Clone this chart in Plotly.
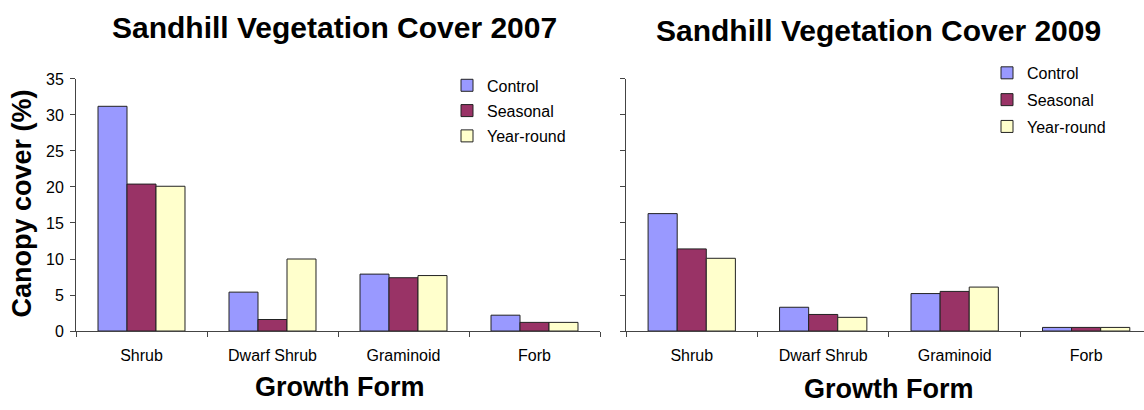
import plotly.graph_objects as go

# Growth-form categories shared by both survey years
categories = ["Shrub", "Dwarf Shrub", "Graminoid", "Forb"]
treatments = ["Control", "Seasonal", "Year-round"]

# Canopy cover (%) by treatment, 2007
control_2007 = [31.2, 5.4, 7.9, 2.2]
seasonal_2007 = [20.4, 1.6, 7.4, 1.2]
yearround_2007 = [20.1, 10.0, 7.7, 1.2]

# Canopy cover (%) by treatment, 2009
control_2009 = [16.3, 3.3, 5.2, 0.5]
seasonal_2009 = [11.4, 2.3, 5.5, 0.5]
yearround_2009 = [10.1, 1.9, 6.1, 0.5]

y_ticks = [0, 5, 10, 15, 20, 25, 30, 35]

colors = ["#9999FF", "#993366", "#FFFFCC"]
FONT = "Arial, Liberation Sans, sans-serif"
W, H = 1144, 410

fig = go.Figure()

for name, vals, col in zip(treatments, [control_2007, seasonal_2007, yearround_2007], colors):
    fig.add_trace(go.Bar(
        x=categories, y=vals, name=name, xaxis="x", yaxis="y",
        marker=dict(color=col, line=dict(color="#222222", width=1)),
        legend="legend", legendgroup="a" + name,
    ))

for name, vals, col in zip(treatments, [control_2009, seasonal_2009, yearround_2009], colors):
    fig.add_trace(go.Bar(
        x=categories, y=vals, name=name, xaxis="x2", yaxis="y2",
        marker=dict(color=col, line=dict(color="#222222", width=1)),
        legend="legend2", legendgroup="b" + name,
    ))


def px_x(px):
    return px / W


def px_y(px):
    return 1 - px / H


y_dom = [px_y(337), px_y(74)]

axis_common = dict(
    showline=True, linecolor="#444444", linewidth=1,
    ticks="outside", ticklen=5, tickcolor="#444444",
    showgrid=False, zeroline=False,
    tickfont=dict(family=FONT, size=16, color="#000000"),
)

legend_common = dict(
    font=dict(family=FONT, size=16, color="#000000"),
    bgcolor="rgba(0,0,0,0)", borderwidth=0,
    itemwidth=30,
    xanchor="left", yanchor="top",
)

fig.update_layout(
    width=W, height=H,
    margin=dict(l=0, r=0, t=0, b=0),
    paper_bgcolor="white", plot_bgcolor="white",
    barmode="group", bargap=0.336, bargroupgap=0,
    font=dict(family=FONT, color="#000000"),
    xaxis=dict(domain=[px_x(76), px_x(600)], type="category",
               range=[-0.5, 3.5], tickson="boundaries",
               ticklabelstandoff=10, anchor="y", **axis_common),
    yaxis=dict(domain=y_dom, range=[0, 35], tickvals=y_ticks,
               ticklabelstandoff=3, anchor="x", **axis_common),
    xaxis2=dict(domain=[px_x(626), 1.0], type="category",
                range=[-0.5, 3.44], tickson="boundaries",
                ticklabelstandoff=10, anchor="y2", **axis_common),
    yaxis2=dict(domain=y_dom, range=[0, 35], tickvals=y_ticks,
                showticklabels=False, anchor="x2", **axis_common),
    legend=dict(x=px_x(447), y=px_y(63), tracegroupgap=1.5, **legend_common),
    legend2=dict(x=px_x(987), y=px_y(50), tracegroupgap=3, **legend_common),
)

annotations = [
    dict(text="<b>Sandhill Vegetation Cover 2007</b>", x=px_x(334), y=px_y(20),
         size=30),
    dict(text="<b>Sandhill Vegetation Cover 2009</b>", x=px_x(878), y=px_y(23),
         size=30),
    dict(text="<b>Growth Form</b>", x=px_x(340), y=px_y(395), size=27),
    dict(text="<b>Growth Form</b>", x=px_x(889), y=px_y(398), size=27),
]
for a in annotations:
    fig.add_annotation(
        text=a["text"], x=a["x"], y=a["y"], xref="paper", yref="paper",
        xanchor="center", yanchor="middle", showarrow=False,
        font=dict(family=FONT, size=a["size"], color="#000000"),
    )

fig.add_annotation(
    text="<b>Canopy cover (%)</b>", x=px_x(22), y=px_y(204),
    xref="paper", yref="paper", xanchor="center", yanchor="middle",
    textangle=-90, showarrow=False,
    font=dict(family=FONT, size=27, color="#000000"),
)

fig.write_html("out.html")
